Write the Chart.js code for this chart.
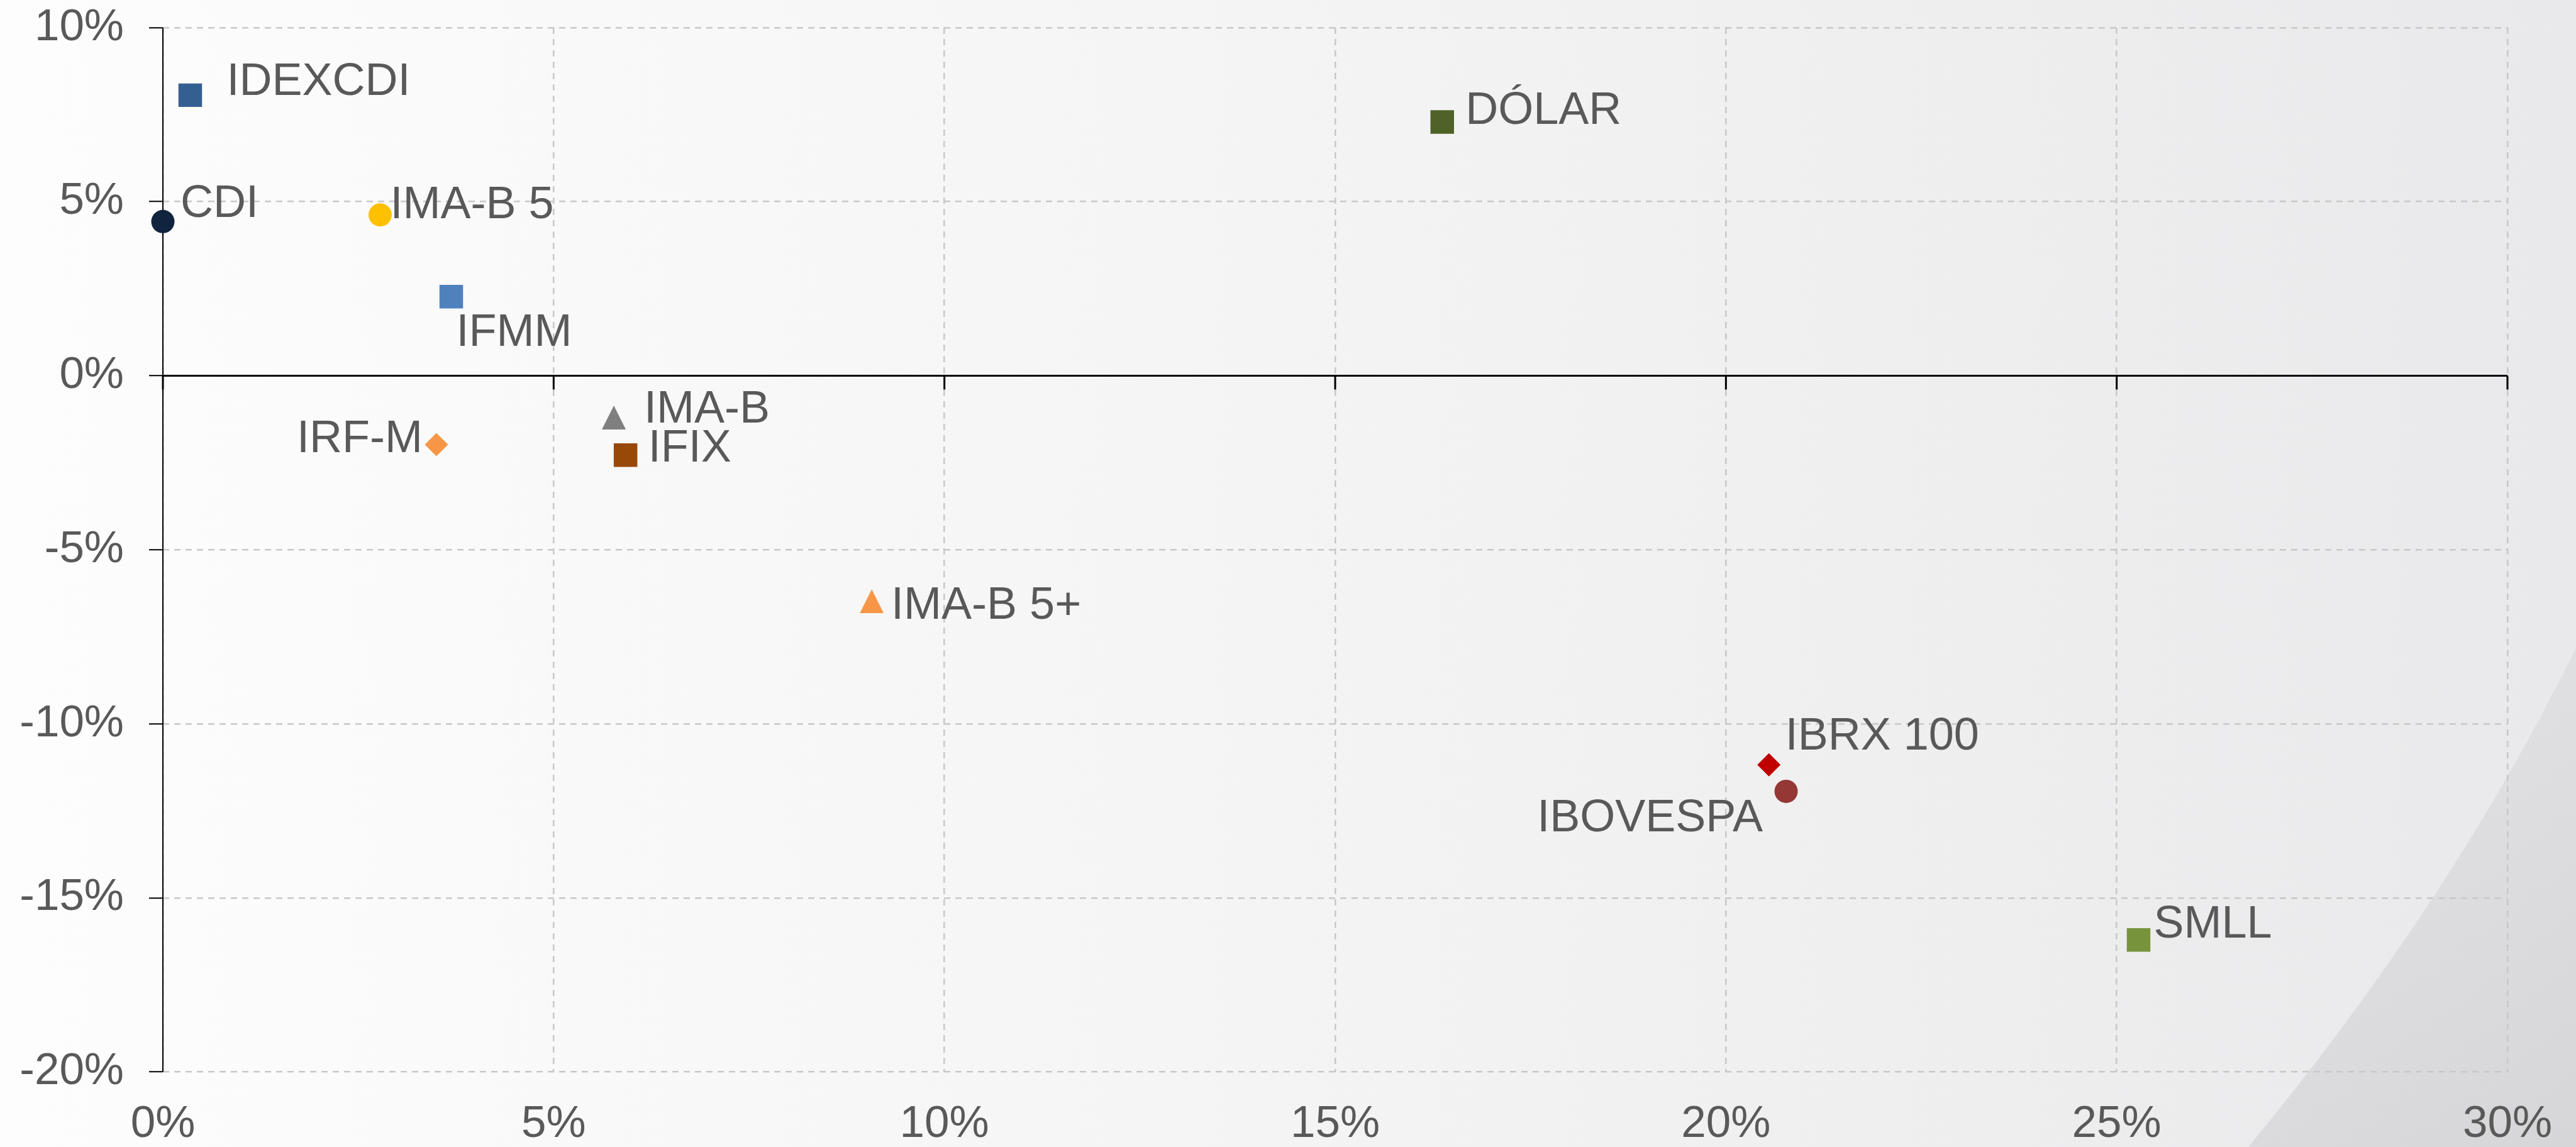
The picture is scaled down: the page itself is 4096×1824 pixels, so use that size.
<!DOCTYPE html>
<html>
<head>
<meta charset="utf-8">
<script src="https://cdn.jsdelivr.net/npm/chart.js@4.4.1/dist/chart.umd.min.js"></script>
<style>
  html, body { margin: 0; padding: 0; background: #f4f4f4; overflow: hidden; }
  #wrap { width: 4096px; height: 1824px; position: relative; }
</style>
</head>
<body>
<div id="wrap"><canvas id="chart"></canvas></div>
<script>
// Data (x and y in %)
const names = ['IDEXCDI', 'CDI', 'IMA-B 5', 'IFMM', 'DÓLAR', 'IMA-B', 'IFIX', 'IRF-M', 'IMA-B 5+', 'IBRX 100', 'IBOVESPA', 'SMLL'];
const xValues = [0.35, 0.00, 2.78, 3.69, 16.37, 5.77, 5.92, 3.50, 9.07, 20.55, 20.77, 25.28];
const yValues = [8.06, 4.43, 4.62, 2.27, 7.29, -1.20, -2.28, -1.98, -6.48, -11.18, -11.94, -16.21];
const xTicks = [0, 5, 10, 15, 20, 25, 30];
const yTicks = [-20, -15, -10, -5, 0, 5, 10];

// Marker look per point
const colors = ['#365f91', '#10243f', '#ffc000', '#4f81bd', '#4f6228', '#7f7f7f', '#984807', '#f79646', '#f79646', '#c00000', '#953735', '#77933c'];
const shapes = ['square', 'circle', 'circle', 'square', 'square', 'triangle', 'square', 'diamond', 'triangle', 'diamond', 'circle', 'square'];

// Where each label sits relative to its marker: [align, dx, dy to baseline]
const labelPlacement = {
  'IDEXCDI': ['left', 58, 0],
  'CDI': ['left', 28, -7],
  'IMA-B 5': ['left', 16, 5],
  'IFMM': ['left', 8, 78],
  'DÓLAR': ['left', 37, 3],
  'IMA-B': ['left', 48, 8],
  'IFIX': ['left', 36, 10],
  'IRF-M': ['right', -22, 12],
  'IMA-B 5+': ['left', 31, 28],
  'IBRX 100': ['left', 26, -24],
  'IBOVESPA': ['right', -37, 64],
  'SMLL': ['left', 24, -4],
};

const FONT = "'Liberation Sans', Arial, sans-serif";
const TEXT = '#595959';

function makeTriangle(color) {
  const c = document.createElement('canvas');
  c.width = 38;
  c.height = 38;
  const g = c.getContext('2d');
  g.fillStyle = color;
  g.beginPath();
  g.moveTo(19, 0);
  g.lineTo(38, 38);
  g.lineTo(0, 38);
  g.closePath();
  g.fill();
  return c;
}

const pointStyles = shapes.map((s, i) => {
  if (s === 'square') return 'rect';
  if (s === 'diamond') return 'rectRot';
  if (s === 'circle') return 'circle';
  return makeTriangle(colors[i]);
});
const pointRadii = shapes.map((s) => (s === 'square' ? 26.5 : 18.5));

// Page background: soft grey gradient with the darker swoosh bottom right
const backgroundPlugin = {
  id: 'background',
  beforeDraw(chart) {
    const { ctx, width, height } = chart;
    ctx.save();
    const g = ctx.createLinearGradient(0, 0, width, 0);
    g.addColorStop(0, '#fdfdfd');
    g.addColorStop(0.45, '#f5f5f5');
    g.addColorStop(1, '#e9e9eb');
    ctx.fillStyle = g;
    ctx.fillRect(0, 0, width, height);

    const s = ctx.createLinearGradient(3700, 1300, 4096, 1824);
    s.addColorStop(0, '#e0e0e2');
    s.addColorStop(1, '#d6d6d8');
    ctx.fillStyle = s;
    ctx.beginPath();
    ctx.moveTo(4096, 1030);
    ctx.quadraticCurveTo(3900, 1430, 3575, 1824);
    ctx.lineTo(4096, 1824);
    ctx.closePath();
    ctx.fill();
    ctx.restore();
  },
};

// Black axes crossing at zero, with tick marks under the x axis
const axesPlugin = {
  id: 'zeroAxes',
  beforeDatasetsDraw(chart) {
    const { ctx, chartArea, scales } = chart;
    const x0 = scales.x.getPixelForValue(0);
    const y0 = scales.y.getPixelForValue(0);
    ctx.save();
    ctx.strokeStyle = '#000000';
    ctx.lineWidth = 3;
    ctx.beginPath();
    ctx.moveTo(chartArea.left, y0);
    ctx.lineTo(chartArea.right, y0);
    xTicks.forEach((v) => {
      const px = scales.x.getPixelForValue(v);
      ctx.moveTo(px, y0);
      ctx.lineTo(px, y0 + 22);
    });
    ctx.stroke();
    ctx.lineWidth = 2;
    ctx.beginPath();
    ctx.moveTo(x0, chartArea.top);
    ctx.lineTo(x0, chartArea.bottom);
    ctx.stroke();
    ctx.restore();
  },
};

// Point names next to the markers
const labelPlugin = {
  id: 'pointLabels',
  afterDatasetsDraw(chart) {
    const { ctx } = chart;
    const meta = chart.getDatasetMeta(0);
    ctx.save();
    ctx.fillStyle = TEXT;
    ctx.font = `72px ${FONT}`;
    ctx.textBaseline = 'alphabetic';
    meta.data.forEach((pt, i) => {
      const [align, dx, dy] = labelPlacement[names[i]];
      ctx.textAlign = align;
      ctx.fillText(names[i], pt.x + dx, pt.y + dy);
    });
    ctx.restore();
  },
};

const tickFont = { family: FONT, size: 71, lineHeight: 1.2 };

new Chart(document.getElementById('chart'), {
  type: 'scatter',
  data: {
    datasets: [{
      label: 'Índices',
      data: xValues.map((x, i) => ({ x, y: yValues[i] })),
      pointStyle: pointStyles,
      pointRadius: pointRadii,
      pointBackgroundColor: colors,
      pointBorderWidth: 0,
      clip: false,
    }],
  },
  options: {
    responsive: true,
    maintainAspectRatio: false,
    devicePixelRatio: 1,
    animation: false,
    events: [],
    layout: { padding: { top: 44, right: 109, left: 0, bottom: 0 } },
    plugins: {
      legend: { display: false },
      tooltip: { enabled: false },
    },
    scales: {
      x: {
        type: 'linear',
        min: 0,
        max: 30,
        afterBuildTicks: (s) => { s.ticks = xTicks.map((v) => ({ value: v })); },
        afterFit: (s) => {
          s.height = 119.5;
          s.paddingLeft = 0;
          s.paddingRight = 0;
        },
        ticks: {
          callback: (v) => v + '%',
          color: TEXT,
          font: tickFont,
          padding: 41,
          maxRotation: 0,
        },
        grid: {
          color: '#c8c8c8',
          lineWidth: 2.5,
          drawTicks: false,
        },
        border: { display: false, dash: [10, 8] },
      },
      y: {
        type: 'linear',
        min: -20,
        max: 10,
        afterBuildTicks: (s) => { s.ticks = yTicks.map((v) => ({ value: v })); },
        afterFit: (s) => {
          s.width = 259;
          s.paddingTop = 0;
          s.paddingBottom = 0;
        },
        ticks: {
          callback: (v) => v + '%',
          color: TEXT,
          font: tickFont,
          padding: 40,
        },
        grid: {
          color: '#c8c8c8',
          lineWidth: 2.5,
          drawTicks: true,
          tickLength: 22,
          tickWidth: 2,
          tickColor: '#000000',
          tickBorderDash: [],
        },
        border: { display: false, dash: [10, 8] },
      },
    },
  },
  plugins: [backgroundPlugin, axesPlugin, labelPlugin],
});
</script>
</body>
</html>
